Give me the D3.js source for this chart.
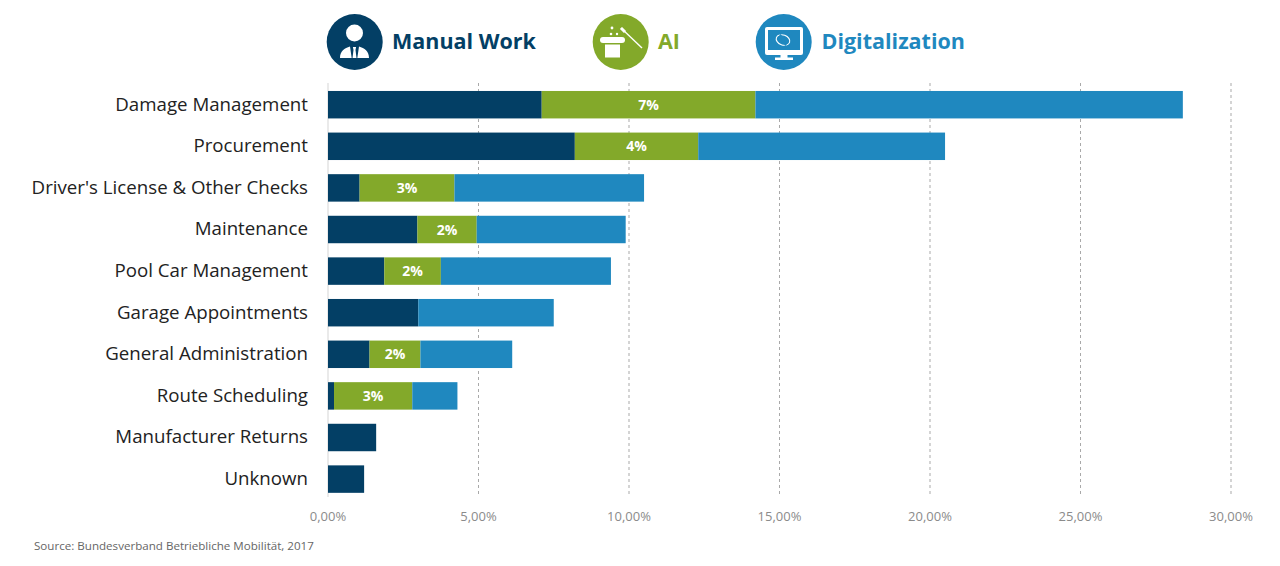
<!DOCTYPE html>
<html><head><meta charset="utf-8">
<style>
html,body{margin:0;padding:0;background:#fff;overflow:hidden}
text{font-family:"Open Sans",sans-serif}
</style>
<script src="https://cdn.jsdelivr.net/npm/d3@7"></script>
</head><body><svg id="c" width="1280" height="566"></svg>
<script>
const categories=["Damage Management","Procurement","Driver's License & Other Checks","Maintenance","Pool Car Management","Garage Appointments","General Administration","Route Scheduling","Manufacturer Returns","Unknown"];
const manual=[7.1,8.2,1.05,2.97,1.87,3.0,1.38,0.2,1.6,1.2];
const ai=[7.1,4.1,3.15,1.97,1.88,0,1.69,2.6,0,0];
const digital=[14.2,8.2,6.3,4.95,5.65,4.5,3.05,1.5,0,0];
const aiLabels=["7%","4%","3%","2%","2%","","2%","3%","",""];
const ticks=[0,5,10,15,20,25,30];
const seriesNames=["Manual Work","AI","Digitalization"];
const colors=["#033f65","#83a92a","#1f88bf"];
const source="Source: Bundesverband Betriebliche Mobilität, 2017";

const svg=d3.select("#c");
const x=d3.scaleLinear().domain([0,30]).range([327.5,1230.5]);
const y=d3.scaleBand().domain(categories).range([83.9,499.9]).paddingInner(0.34).paddingOuter(0.17);

// grid
svg.append("g").selectAll("line").data(ticks).join("line")
 .attr("x1",d=>x(d)+.5).attr("x2",d=>x(d)+.5).attr("y1",83).attr("y2",497)
 .attr("stroke",d=>d===0?"#d5d5d5":"#a9a9a9").attr("stroke-width",1)
 .attr("stroke-dasharray",d=>d===0?null:"3 3");

// bars
const stack=d3.stack().keys([0,1,2]).value((d,k)=>d[k])(categories.map((c,i)=>[manual[i],ai[i],digital[i]]));
svg.append("g").selectAll("g").data(stack).join("g").attr("fill",(d,i)=>colors[i])
 .selectAll("rect").data((d)=>d.map((v,i)=>({v,i}))).join("rect")
 .attr("x",d=>x(d.v[0])+.5).attr("width",d=>x(d.v[1])-x(d.v[0]))
 .attr("y",d=>y(categories[d.i])).attr("height",y.bandwidth());

// AI labels
svg.append("g").selectAll("text").data(aiLabels).join("text")
 .attr("x",(d,i)=>x(manual[i]+ai[i]/2)+.5).attr("y",(d,i)=>y(categories[i])+y.bandwidth()/2+5)
 .attr("text-anchor","middle").attr("fill","#fff").attr("font-weight",700).attr("font-size",14).text(d=>d);

// category labels
const yAxis=d3.axisLeft(y).tickSize(0).tickPadding(0);
const ga=svg.append("g").attr("transform","translate(308,0)").call(yAxis);
ga.select(".domain").remove();
ga.selectAll("text").attr("font-size",18.7).attr("fill","#222").attr("font-family",'"Open Sans",sans-serif');

// x axis
const xAxis=d3.axisBottom(x).tickValues(ticks).tickSize(0).tickPadding(0).tickFormat(d=>d3.format(".2f")(d).replace(".",",")+"%");
const gx=svg.append("g").attr("transform","translate(0,512)").call(xAxis);
gx.select(".domain").remove();
gx.selectAll("text").attr("font-size",13).attr("fill","#8b8b8b").attr("font-family",'"Open Sans",sans-serif');

// source
svg.append("text").attr("x",34).attr("y",550).attr("font-size",11.6).attr("fill","#666").text(source);

// legend
const legX=[355,621,784], legText=[392,658,821.5];
seriesNames.forEach((n,i)=>{
  svg.append("circle").attr("cx",legX[i]-.3).attr("cy",42).attr("r",28).attr("fill",colors[i]);
  svg.append("text").attr("x",legText[i]).attr("y",49).attr("font-size",21.5).attr("font-weight",700).attr("fill",colors[i]).text(n);
});
// person icon
const p=svg.append("g").attr("transform","translate(354.5,42)");
p.append("circle").attr("cx",0).attr("cy",-9).attr("r",8.5).attr("fill","#fff");
p.append("path").attr("fill","#fff").attr("d","M-14.5,16 C-14.5,9 -10,6 -4.5,4.5 L-2.8,16 Z M14.5,16 C14.5,9 10,6 4.5,4.5 L2.8,16 Z M-1.6,5 L1.6,5 L1,8 L2,16 L-2,16 L-1,8 Z");
// hat icon
const h=svg.append("g").attr("transform","translate(621,42)");
h.append("rect").attr("x",-21).attr("y",-5).attr("width",25).attr("height",6).attr("rx",3).attr("fill","#fff");
h.append("rect").attr("x",-16).attr("y",2.5).attr("width",15).attr("height",13).attr("fill","#fff");
h.append("line").attr("x1",0).attr("y1",-14).attr("x2",21).attr("y2",6).attr("stroke","#fff").attr("stroke-width",1.4);
h.append("line").attr("x1",0).attr("y1",-14).attr("x2",4).attr("y2",-10).attr("stroke","#fff").attr("stroke-width",3);
[[-9,-14,1.4],[-10,-8,1.3],[-4,-8,1.2]].forEach(d=>h.append("circle").attr("cx",d[0]).attr("cy",d[1]).attr("r",d[2]).attr("fill","#fff"));
// monitor icon
const m=svg.append("g").attr("transform","translate(784,42)");
m.append("rect").attr("x",-19).attr("y",-15).attr("width",38).attr("height",28).attr("rx",2).attr("fill","#fff");
m.append("rect").attr("x",-16).attr("y",-12).attr("width",32).attr("height",20).attr("fill",colors[2]);
m.append("rect").attr("x",-3.5).attr("y",13).attr("width",7).attr("height",3).attr("fill","#fff");
m.append("rect").attr("x",-9).attr("y",15.5).attr("width",18).attr("height",2.5).attr("fill","#fff");
m.append("ellipse").attr("cx",-1).attr("cy",-2).attr("rx",7).attr("ry",5).attr("transform","rotate(20 -1 -2)").attr("fill","none").attr("stroke","#fff").attr("stroke-width",1.1);
m.append("line").attr("x1",-4).attr("y1",-7.5).attr("x2",2).attr("y2",3.5).attr("stroke",colors[2]).attr("stroke-width",2);
</script></body></html>
